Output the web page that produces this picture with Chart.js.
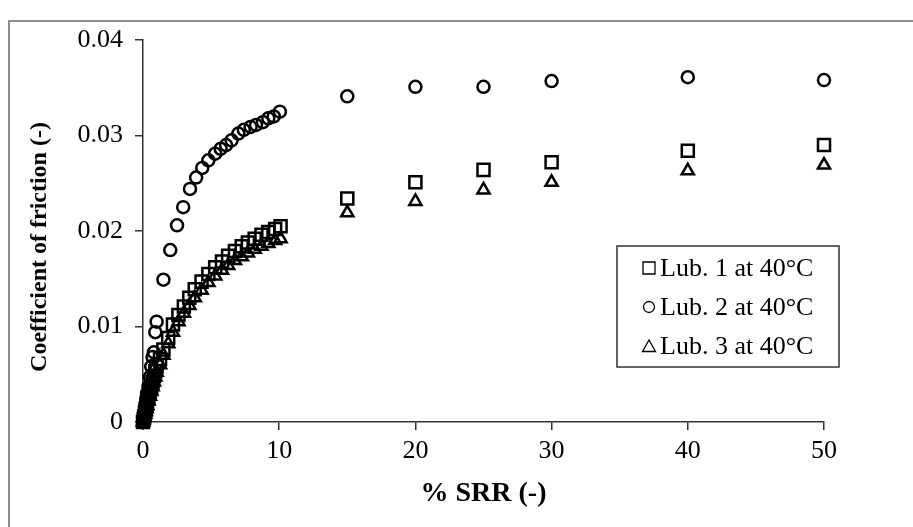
<!DOCTYPE html>
<html>
<head>
<meta charset="utf-8">
<script src="https://cdn.jsdelivr.net/npm/chart.js@4"></script>
<style>
    body { margin: 0; background: #fff; }
    #moldura { position: absolute; left: 8px; top: 20px; width: 920px; height: 520px; border-left: 2px solid #8c8c8c; border-top: 2px solid #8c8c8c; }
    #caixa { position: absolute; left: 0; top: 0; width: 913px; height: 527px; }
</style>
</head>
<body>
<div id="moldura"></div>
<div id="caixa"><canvas id="grafico" width="913" height="527"></canvas></div>
<script>
// % SRR e coeficiente de atrito
var srr_lub1 = [0, 0.05, 0.1, 0.15, 0.2, 0.25, 0.3, 0.4, 0.5, 0.6, 0.7, 0.8, 0.9, 1.0, 1.25, 1.5, 1.85, 2.2, 2.6, 3.0, 3.4, 3.8, 4.3, 4.8, 5.3, 5.8, 6.25, 6.75, 7.25, 7.7, 8.2, 8.7, 9.2, 9.7, 10.1, 15, 20, 25, 30, 40, 50]
var cof_lub1 = [0, 0.0003, 0.0006, 0.001, 0.0013, 0.0017, 0.002, 0.0025, 0.003, 0.0036, 0.0042, 0.0048, 0.0053, 0.0058, 0.0066, 0.0076, 0.0088, 0.0102, 0.0112, 0.0121, 0.013, 0.0139, 0.0147, 0.0155, 0.0162, 0.0168, 0.0174, 0.0179, 0.0184, 0.0188, 0.0192, 0.0196, 0.0199, 0.0202, 0.0205, 0.0234, 0.0251, 0.0264, 0.0272, 0.0284, 0.029]

var srr_lub2 = [0, 0.05, 0.1, 0.15, 0.2, 0.25, 0.3, 0.4, 0.5, 0.6, 0.7, 0.8, 0.9, 1.0, 1.5, 2.0, 2.5, 2.95, 3.45, 3.9, 4.35, 4.8, 5.3, 5.7, 6.1, 6.5, 7.0, 7.4, 7.9, 8.3, 8.8, 9.2, 9.6, 10.05, 15, 20, 25, 30, 40, 50]
var cof_lub2 = [0, 0.0005, 0.001, 0.0015, 0.002, 0.0025, 0.003, 0.0037, 0.0047, 0.0058, 0.0068, 0.0073, 0.0094, 0.0105, 0.0149, 0.018, 0.0206, 0.0225, 0.0244, 0.0256, 0.0266, 0.0274, 0.0281, 0.0286, 0.029, 0.0295, 0.0302, 0.0306, 0.0309, 0.0311, 0.0314, 0.0318, 0.032, 0.0325, 0.0341, 0.0351, 0.0351, 0.0357, 0.0361, 0.0358]

var srr_lub3 = [0, 0.05, 0.1, 0.15, 0.2, 0.25, 0.3, 0.4, 0.5, 0.6, 0.7, 0.8, 0.9, 1.0, 1.25, 1.5, 1.85, 2.2, 2.6, 3.0, 3.4, 3.8, 4.3, 4.8, 5.3, 5.8, 6.25, 6.75, 7.25, 7.7, 8.2, 8.7, 9.2, 9.7, 10.1, 15, 20, 25, 30, 40, 50]
var cof_lub3 = [0, 0.0002, 0.0005, 0.0008, 0.0011, 0.0014, 0.0017, 0.0022, 0.0027, 0.0032, 0.0037, 0.0042, 0.0047, 0.0052, 0.006, 0.007, 0.0082, 0.0094, 0.0105, 0.0114, 0.0122, 0.013, 0.0138, 0.0146, 0.0153, 0.0159, 0.0164, 0.0169, 0.0173, 0.0177, 0.0181, 0.0184, 0.0187, 0.019, 0.0192, 0.0219, 0.0231, 0.0243, 0.0251, 0.0263, 0.0269]

var nomes_series = ['Lub. 1 at 40°C', 'Lub. 2 at 40°C', 'Lub. 3 at 40°C']
var ticks_x = [0, 10, 20, 30, 40, 50]
var ticks_y = ['0', '0.01', '0.02', '0.03', '0.04']
var titulo_y = 'Coefficient of friction (-)'

function juntar(xs, ys) {
    var pontos = []
    for (let i = 0; i < xs.length; i++) {
        pontos.push({ x: xs[i], y: ys[i] })
    }
    return pontos
}

var fonteSerif = '"Liberation Serif", "Times New Roman", serif'

// legenda dentro da area do grafico + titulo do eixo y (um pouco abaixo do centro, como no original)
var legendaCaixa = {
    id: 'legendaCaixa',
    afterDraw: function (chart) {
        var ctx = chart.ctx
        ctx.save()
        ctx.strokeStyle = '#333'
        ctx.lineWidth = 1.5
        ctx.strokeRect(617, 246, 222, 121)

        ctx.fillStyle = '#000'
        ctx.font = '26px ' + fonteSerif
        ctx.textBaseline = 'middle'
        ctx.lineWidth = 1.3
        ctx.strokeStyle = '#000'

        var linhas = [268, 307, 346]
        for (let i = 0; i < nomes_series.length; i++) {
            var y = linhas[i]
            var x = 649
            ctx.beginPath()
            if (i == 0) {
                ctx.rect(x - 6, y - 6, 12, 12)
            } else if (i == 1) {
                ctx.arc(x, y, 5.5, 0, Math.PI * 2)
            } else {
                ctx.moveTo(x, y - 6)
                ctx.lineTo(x + 6.5, y + 5.5)
                ctx.lineTo(x - 6.5, y + 5.5)
                ctx.closePath()
            }
            ctx.stroke()
            ctx.fillText(nomes_series[i], 660, y + 1)
        }

        ctx.translate(40, 247)
        ctx.rotate(-Math.PI / 2)
        ctx.textAlign = 'center'
        ctx.font = 'bold 24px ' + fonteSerif
        ctx.fillText(titulo_y, 0, 0)
        ctx.restore()
    }
}

const ctx = document.getElementById('grafico').getContext('2d')
var myChart = new Chart(ctx, {
    type: 'scatter',
    data: {
        datasets: [{
            label: nomes_series[0],
            data: juntar(srr_lub1, cof_lub1),
            pointStyle: 'rect',
            pointRadius: 8.5,
            borderColor: '#000',
            backgroundColor: 'rgba(0,0,0,0)',
            borderWidth: 2.5,
            clip: false
        }, {
            label: nomes_series[1],
            data: juntar(srr_lub2, cof_lub2),
            pointStyle: 'circle',
            pointRadius: 6,
            borderColor: '#000',
            backgroundColor: 'rgba(0,0,0,0)',
            borderWidth: 2.5,
            clip: false
        }, {
            label: nomes_series[2],
            data: juntar(srr_lub3, cof_lub3),
            pointStyle: 'triangle',
            pointRadius: 7,
            borderColor: '#000',
            backgroundColor: 'rgba(0,0,0,0)',
            borderWidth: 2.5,
            clip: false
        }]
    },
    options: {
        responsive: false,
        animation: false,
        layout: { padding: { left: 0, right: 89, top: 40, bottom: 0 } },
        scales: {
            x: {
                type: 'linear',
                min: 0,
                max: 50,
                afterFit: function (scale) { scale.height = 105 },
                afterBuildTicks: function (scale) { scale.ticks = ticks_x.map(v => ({ value: v })) },
                grid: { drawOnChartArea: false, drawTicks: true, tickLength: 8, color: '#333', lineWidth: 1.5 },
                border: { display: true, color: '#333', width: 1.5 },
                ticks: { color: '#000', padding: 6, font: { family: fonteSerif, size: 26 }, maxRotation: 0 },
                title: { display: true, text: '% SRR (-)', color: '#000', padding: { top: 0, bottom: 16 }, font: { family: fonteSerif, size: 28, weight: 'bold', lineHeight: 1.2 } }
            },
            y: {
                type: 'linear',
                min: 0,
                max: 0.04,
                afterFit: function (scale) { scale.width = 143 },
                afterBuildTicks: function (scale) { scale.ticks = [0, 0.01, 0.02, 0.03, 0.04].map(v => ({ value: v })) },
                grid: { drawOnChartArea: false, drawTicks: true, tickLength: 8, color: '#333', lineWidth: 1.5 },
                border: { display: true, color: '#333', width: 1.5 },
                ticks: {
                    color: '#000', padding: 12, font: { family: fonteSerif, size: 26 },
                    callback: function (v, i) { return ticks_y[i] }
                },
                title: { display: false }
            }
        },
        plugins: {
            legend: { display: false },
            tooltip: { enabled: false }
        }
    },
    plugins: [legendaCaixa]
})
</script>
</body>
</html>
